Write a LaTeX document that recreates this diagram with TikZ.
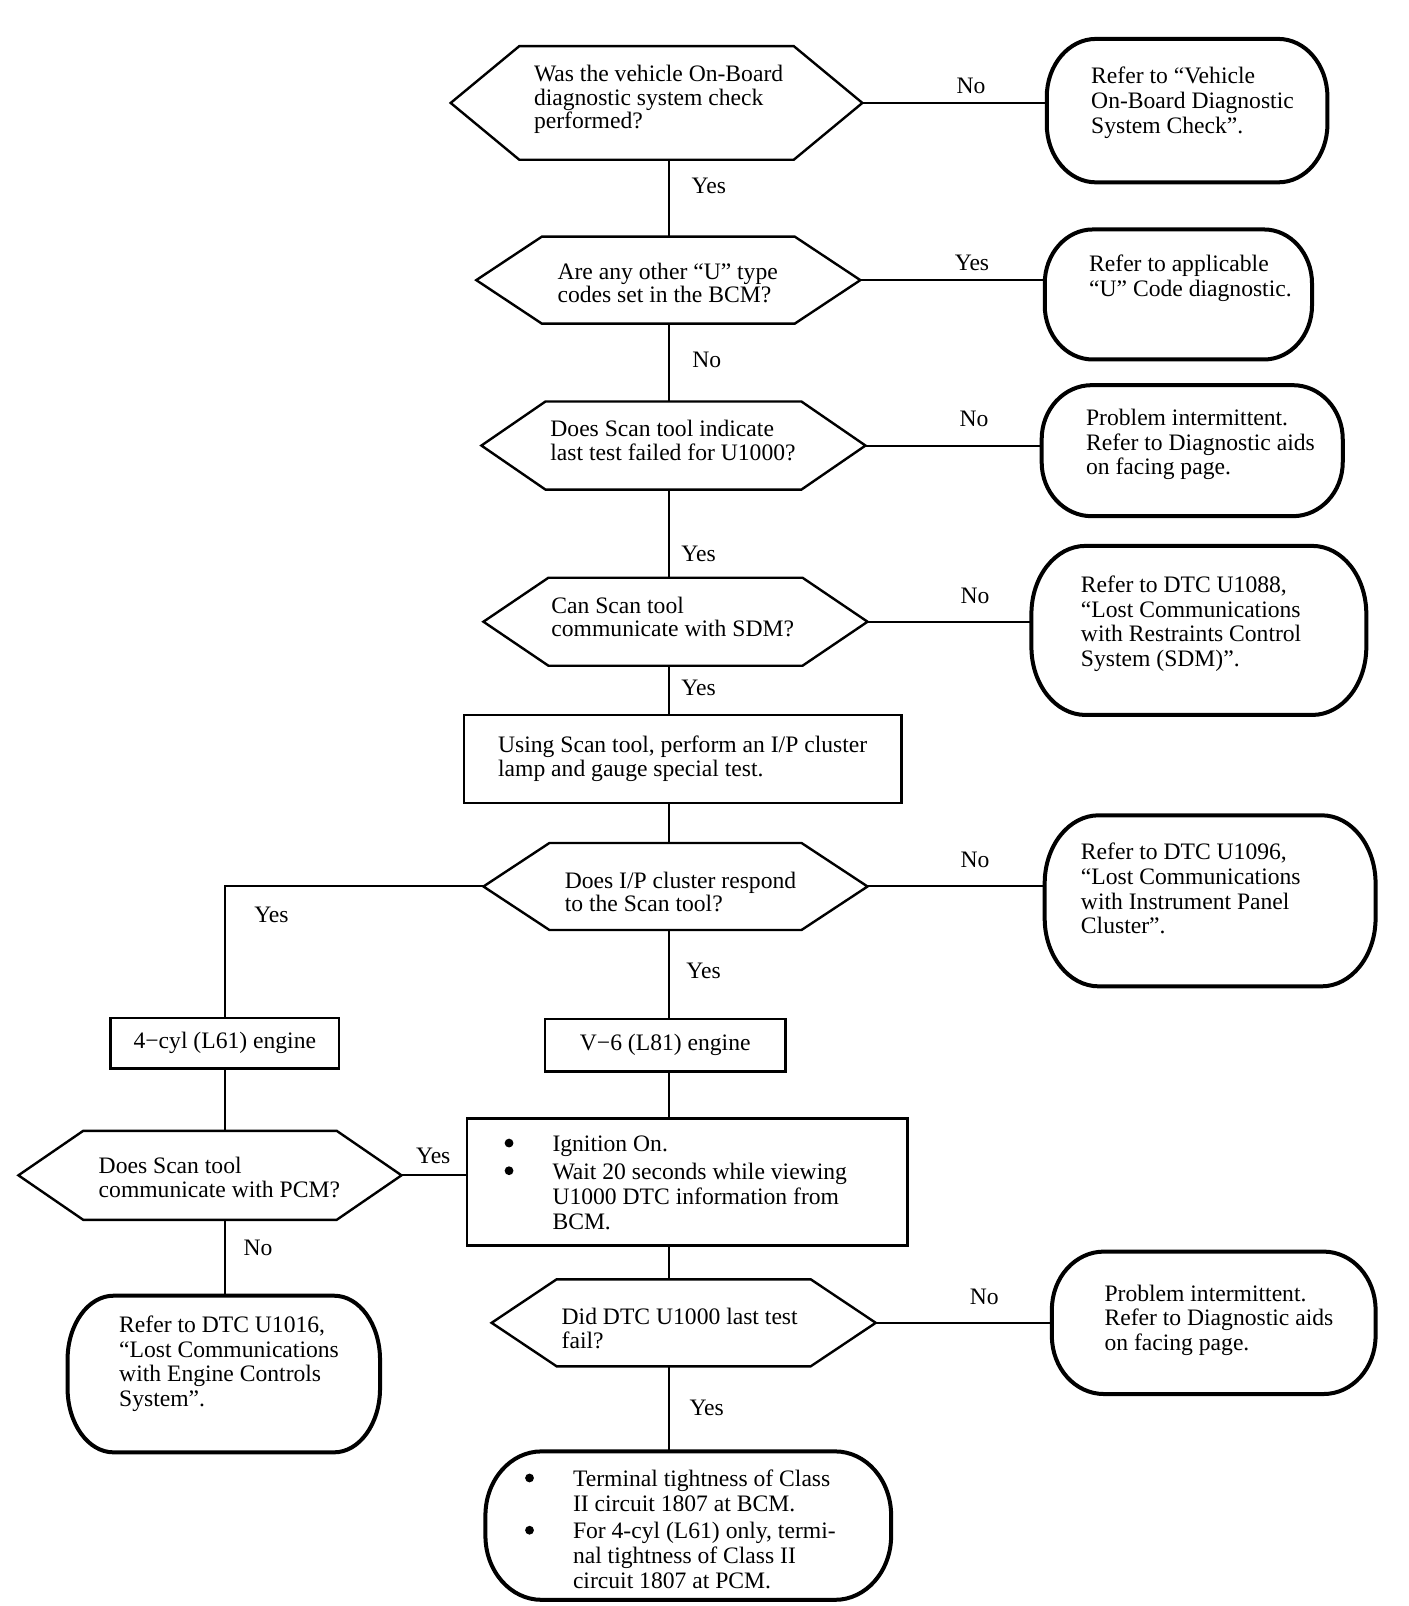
\documentclass[tikz,border=0pt]{standalone}
\usepackage{fontspec}
\setmainfont{Liberation Serif}
\newcommand\bul{\hspace*{24.6pt}}
\newcommand\hexdraw[2]{\draw[hexline] (#1.west) -- ([xshift=#2]#1.north west) -- ([xshift=-#2]#1.north east) -- (#1.east) -- ([xshift=-#2]#1.south east) -- ([xshift=#2]#1.south west) -- cycle;}
\newcommand\rbox[3]{\draw[rline] ([xshift=#2]#1.north west) -- ([xshift=-#2]#1.north east)
   arc[start angle=90, end angle=0, x radius=#2, y radius=#3]
   -- ([yshift=#3]#1.south east)
   arc[start angle=0, end angle=-90, x radius=#2, y radius=#3]
   -- ([xshift=#2]#1.south west)
   arc[start angle=270, end angle=180, x radius=#2, y radius=#3]
   -- ([yshift=-#3]#1.north west)
   arc[start angle=180, end angle=90, x radius=#2, y radius=#3] -- cycle;}
\begin{document}
\begin{tikzpicture}[x=0.512pt,y=0.512pt,
  sz/.style 2 args={shape=rectangle, inner sep=0pt, outer sep=0pt, minimum width=#1, minimum height=#2},
  hexline/.style={line width=1.2pt, line join=miter},
  rline/.style={line width=2pt},
  rect/.style={draw, line width=1.2pt, align=left, font=\fontsize{11.8}{12}\selectfont},
  txt/.style={anchor=west, align=left, inner sep=0pt, font=\fontsize{11.8}{11.6}\selectfont},
  rtxt/.style={anchor=west, align=left, inner sep=0pt, font=\fontsize{11.8}{12.4}\selectfont},
  lbl/.style={inner sep=0pt, font=\fontsize{11.8}{12}\selectfont},
  dot/.style={fill=black},
  conn/.style={line width=1pt}]
\useasboundingbox (0,0) rectangle (1375,-1568);
\fill[white] (0,0) rectangle (1375,-1568);
\coordinate (sp) at (653,0);

% decision hexagons
\node[sz={205.8pt}{56.8pt}] (D1) at (641,-100.5) {};
\node[sz={192pt}{43.5pt}] (D2) at (652.5,-273.5) {};
\node[sz={192pt}{44pt}] (D3) at (657.5,-435) {};
\node[sz={192pt}{44pt}] (D4) at (659.5,-607) {};
\node[sz={192pt}{43.5pt}] (D5) at (659.5,-865.5) {};
\node[sz={191.5pt}{44.5pt}] (D6) at (205,-1147.5) {};
\node[sz={192pt}{43.5pt}] (D7) at (667.5,-1291.5) {};
\hexdraw{D1}{34.3pt}
\hexdraw{D2}{32.8pt}
\hexdraw{D3}{32pt}
\hexdraw{D4}{32.5pt}
\hexdraw{D5}{33pt}
\hexdraw{D6}{32.4pt}
\hexdraw{D7}{32.5pt}
\node[txt] (D1t) at (521,-97) {Was the vehicle On-Board\\diagnostic system check\\performed?};
\node[txt] (D2t) at (544,-276) {Are any other “U” type\\codes set in the BCM?};
\node[txt] (D3t) at (537,-430) {Does Scan tool indicate\\last test failed for U1000?};
\node[txt] (D4t) at (538,-602) {Can Scan tool\\communicate with SDM?};
\node[txt] (D5t) at (551,-871) {Does I/P cluster respond\\to the Scan tool?};
\node[txt] (D6t) at (96,-1149.5) {Does Scan tool\\communicate with PCM?};
\node[txt] (D7t) at (548,-1297) {Did DTC U1000 last test\\fail?};

% rounded result boxes
\node[sz={140.3pt}{71.7pt}] (R1) at (1159,-108) {};
\node[sz={133.6pt}{65pt}] (R2) at (1150.5,-287.5) {};
\node[sz={150.5pt}{65.5pt}] (R3) at (1164,-440) {};
\node[sz={167.4pt}{84.5pt}] (R4) at (1170.5,-615.5) {};
\node[sz={165.4pt}{85.5pt}] (R5) at (1181.5,-879.5) {};
\node[sz={156.2pt}{78.3pt}] (R6) at (218.5,-1341.5) {};
\node[sz={161.8pt}{71.2pt}] (R7) at (1185,-1291.5) {};
\node[sz={202.8pt}{74.2pt}] (R8) at (672,-1489.5) {};
\rbox{R1}{24.6pt}{29pt}
\rbox{R2}{24pt}{27pt}
\rbox{R3}{25pt}{27pt}
\rbox{R4}{27pt}{34pt}
\rbox{R5}{27pt}{34pt}
\rbox{R6}{23pt}{32pt}
\rbox{R7}{26pt}{29pt}
\rbox{R8}{28pt}{32pt}
\node[rtxt] (R1t) at (1065,-100.5) {Refer to “Vehicle\\On-Board Diagnostic\\System Check”.};
\node[rtxt] (R2t) at (1063,-272) {Refer to applicable\\“U” Code diagnostic.};
\node[rtxt] (R3t) at (1060,-434) {Problem intermittent.\\Refer to Diagnostic aids\\on facing page.};
\node[rtxt] (R4t) at (1055,-609) {Refer to DTC U1088,\\“Lost Communications\\with Restraints Control\\System (SDM)”.};
\node[rtxt] (R5t) at (1055,-867.5) {Refer to DTC U1096,\\“Lost Communications\\with Instrument Panel\\Cluster”.};
\node[rtxt] (R6t) at (116,-1331.5) {Refer to DTC U1016,\\“Lost Communications\\with Engine Controls\\System”.};
\node[rtxt] (R7t) at (1078,-1289) {Problem intermittent.\\Refer to Diagnostic aids\\on facing page.};
\node[rtxt] (R8t) at (511,-1493) {\bul Terminal tightness of Class\\\bul II circuit 1807 at BCM.\\[1.5pt]\bul For 4-cyl (L61) only, termi-\\\bul nal tightness of Class II\\\bul circuit 1807 at PCM.};
\fill[dot] (517,-1443) circle (2.2pt);
\fill[dot] (517,-1494) circle (2.2pt);

% process boxes
\node[rect, sz={218.6pt}{44pt}] (B1) at (666.5,-741) {Using Scan tool, perform an I/P cluster\\lamp and gauge special test.};
\node[rect, sz={114.2pt}{25.1pt}] (B2) at (219.5,-1018.5) {\raisebox{-1.5pt}{4−cyl (L61) engine}};
\node[rect, sz={120.3pt}{26.1pt}] (B3) at (649.5,-1020.5) {V−6 (L81) engine};
\node[rect, sz={220.2pt}{63.5pt}] (B4) at (671,-1154) {};
\node[rtxt] (B4t) at (491,-1155) {\bul Ignition On.\\[1.5pt]\bul Wait 20 seconds while viewing\\\bul U1000 DTC information from\\\bul BCM.};
\fill[dot] (497,-1116) circle (2.2pt);
\fill[dot] (497,-1143) circle (2.2pt);

% connectors
\draw[conn] (D1.east) -- (D1.east -| R1.west);
\draw[conn] (D1.south -| sp) -- (D2.north -| sp);
\draw[conn] (D2.east) -- (D2.east -| R2.west);
\draw[conn] (D2.south -| sp) -- (D3.north -| sp);
\draw[conn] (D3.east) -- (D3.east -| R3.west);
\draw[conn] (D3.south -| sp) -- (D4.north -| sp);
\draw[conn] (D4.east) -- (D4.east -| R4.west);
\draw[conn] (D4.south -| sp) -- (B1.north -| sp);
\draw[conn] (B1.south -| sp) -- (D5.north -| sp);
\draw[conn] (D5.east) -- (D5.east -| R5.west);
\draw[conn] (D5.west) -| (B2.north);
\draw[conn] (D5.south -| sp) -- (B3.north -| sp);
\draw[conn] (B2.south) -- (B2.south |- D6.north);
\draw[conn] (B2.south |- D6.south) -- (B2.south |- R6.north);
\draw[conn] (D6.east) -- (D6.east -| B4.west);
\draw[conn] (B3.south -| sp) -- (B4.north -| sp);
\draw[conn] (B4.south -| sp) -- (D7.north -| sp);
\draw[conn] (D7.east) -- (D7.east -| R7.west);
\draw[conn] (D7.south -| sp) -- (R8.north -| sp);

% labels
\node[lbl] (L1) at (948,-84) {No};
\node[lbl] (L2) at (692,-181) {Yes};
\node[lbl] (L3) at (949,-257) {Yes};
\node[lbl] (L4) at (690,-351) {No};
\node[lbl] (L5) at (951,-409) {No};
\node[lbl] (L6) at (682,-541) {Yes};
\node[lbl] (L7) at (952,-582) {No};
\node[lbl] (L8) at (682,-672) {Yes};
\node[lbl] (L9) at (952,-840) {No};
\node[lbl] (L10) at (265,-893) {Yes};
\node[lbl] (L11) at (687,-948) {Yes};
\node[lbl] (L12) at (423,-1129) {Yes};
\node[lbl] (L13) at (252,-1218) {No};
\node[lbl] (L14) at (961,-1266) {No};
\node[lbl] (L15) at (690,-1375) {Yes};
\end{tikzpicture}
\end{document}
